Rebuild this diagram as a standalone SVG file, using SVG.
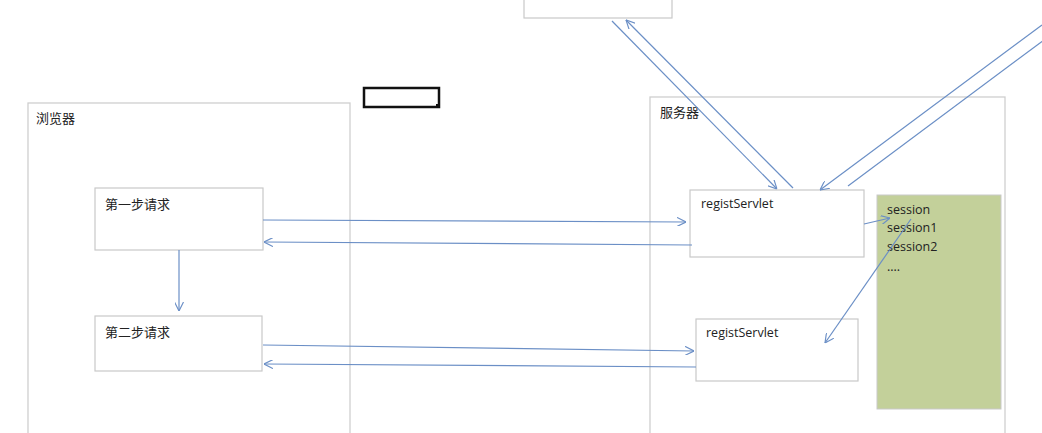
<svg xmlns="http://www.w3.org/2000/svg" width="1042" height="433" viewBox="0 0 1042 433">
<style>
.box{fill:#fff;stroke:#c9c9c9;stroke-width:1.2}
.outer{fill:none;stroke:#cfcfcf;stroke-width:1.3}
.t{font-family:"Noto Sans CJK SC","Liberation Sans",sans-serif;font-size:13px;fill:#222}
.e{font-family:"Open Sans","Liberation Sans",sans-serif;font-size:12.5px;fill:#222}
.c{fill:none;stroke:#6b8fc6;stroke-width:1.2}
</style>
<defs>
<marker id="a" viewBox="0 0 10 10" refX="10" refY="5" markerWidth="9" markerHeight="9" markerUnits="userSpaceOnUse" orient="auto">
<path d="M0,0 L10,5 L0,10" fill="none" stroke="#6b8fc6" stroke-width="1.3"/>
</marker>
</defs>
<rect width="1042" height="433" fill="#fff"/>
<g id="browser">
<rect class="outer" x="28" y="103" width="322" height="340"/>
<text class="t" x="36" y="123">浏览器</text>
</g>
<g id="server">
<rect class="outer" x="650" y="97" width="355" height="346"/>
<text class="t" x="660" y="117">服务器</text>
</g>
<g id="topbox">
<rect class="box" x="524" y="-5" width="148" height="23"/>
</g>
<g id="blackrect">
<rect x="364" y="88" width="75" height="19" fill="none" stroke="#111" stroke-width="2.5"/>
<rect x="436" y="104" width="4" height="4" fill="#111"/>
</g>
<g id="step1">
<rect class="box" x="95" y="188" width="168" height="62"/>
<text class="t" x="105" y="209">第一步请求</text>
</g>
<g id="step2">
<rect class="box" x="95" y="316" width="167" height="55"/>
<text class="t" x="105" y="337">第二步请求</text>
</g>
<g id="regist1">
<rect class="box" x="690" y="190" width="174" height="67"/>
<text class="e" x="701" y="208">registServlet</text>
</g>
<g id="regist2">
<rect class="box" x="696" y="319" width="162" height="62"/>
<text class="e" x="706" y="337">registServlet</text>
</g>
<g id="sessions">
<rect x="877" y="195" width="124" height="214" fill="#c3d09a" stroke="#c9c9c9" stroke-width="1"/>
<text class="e" x="887" y="214">session</text>
<text class="e" x="887" y="232">session1</text>
<text class="e" x="887" y="251">session2</text>
<text class="e" x="887" y="271">....</text>
</g>
<g id="connectors">
<line class="c" x1="263" y1="220" x2="686" y2="222" marker-end="url(#a)"/>
<line class="c" x1="692" y1="245" x2="264" y2="242" marker-end="url(#a)"/>
<line class="c" x1="179" y1="250" x2="179" y2="311" marker-end="url(#a)"/>
<line class="c" x1="263" y1="345" x2="694" y2="351" marker-end="url(#a)"/>
<line class="c" x1="696" y1="367" x2="264" y2="364" marker-end="url(#a)"/>
<line class="c" x1="864" y1="224" x2="890" y2="218" marker-end="url(#a)"/>
<line class="c" x1="911" y1="219" x2="825" y2="343" marker-end="url(#a)"/>
<line class="c" x1="612" y1="21" x2="777" y2="189" marker-end="url(#a)"/>
<line class="c" x1="793" y1="188" x2="626" y2="20" marker-end="url(#a)"/>
<line class="c" x1="1042" y1="25" x2="820" y2="190" marker-end="url(#a)"/>
<line class="c" x1="848" y1="186" x2="1044" y2="40"/>
</g>
</svg>
